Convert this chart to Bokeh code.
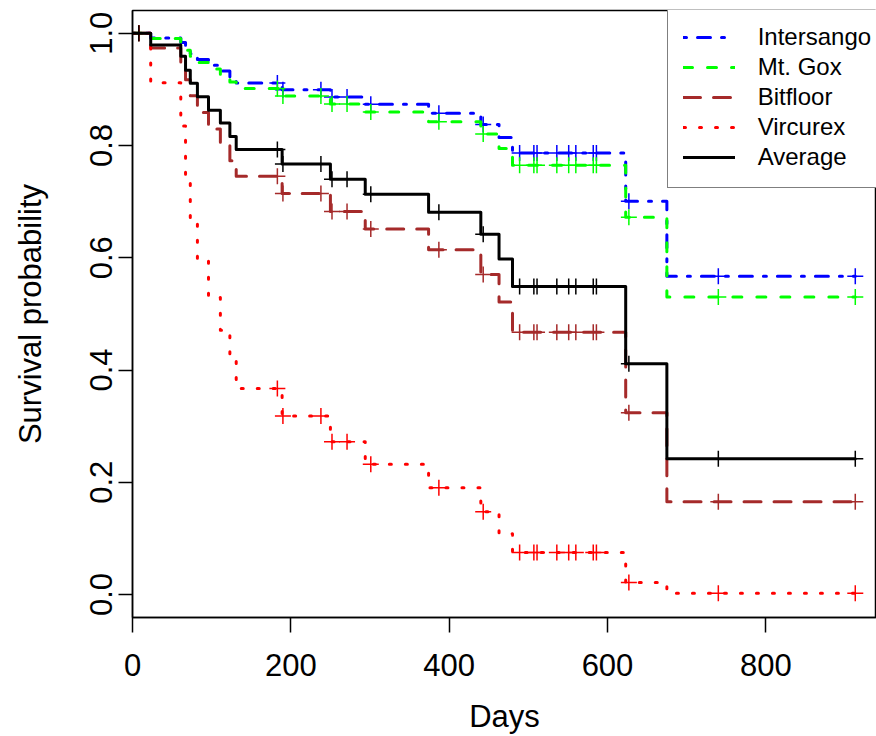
import numpy as np
from bokeh.plotting import figure
from bokeh.models import Range1d, FixedTicker, Legend, LegendItem
from bokeh.embed import file_html
from bokeh.resources import INLINE

# ---- data ----
event_days = [23, 61, 67, 73, 82, 96, 111, 123, 131, 189, 250, 294, 374, 440, 463, 480, 623, 675]
censor_days = [8, 183, 190, 238, 252, 271, 301, 387, 443, 489, 507, 511, 536, 551, 560, 582, 586, 627, 740, 913]
end_day = 913

intersango = [1.0, 0.9915, 0.9834, 0.9731, 0.9634, 0.9532, 0.9428, 0.9326, 0.9219, 0.9114, 0.8993, 0.8865, 0.8734, 0.8575, 0.8376, 0.8141, 0.7867, 0.7007, 0.5669]
mtgox = [1.0, 0.9906, 0.9815, 0.9699, 0.9592, 0.9478, 0.9363, 0.9250, 0.9131, 0.9015, 0.8882, 0.8741, 0.8597, 0.8422, 0.8203, 0.7947, 0.7649, 0.6720, 0.5303]
bitfloor = [1.0, 0.9735, 0.9483, 0.9171, 0.8885, 0.8590, 0.8296, 0.8017, 0.7727, 0.7452, 0.7144, 0.6826, 0.6512, 0.6144, 0.5701, 0.5211, 0.4675, 0.3239, 0.1654]
vircurex = [1.0, 0.912, 0.8346, 0.7446, 0.6685, 0.5957, 0.5291, 0.4709, 0.4154, 0.3671, 0.3179, 0.2723, 0.2319, 0.1902, 0.1474, 0.1085, 0.0750, 0.0215, 0.0022]
average = [1.0, 0.979, 0.959, 0.934, 0.911, 0.887, 0.863, 0.840, 0.816, 0.793, 0.767, 0.740, 0.713, 0.681, 0.642, 0.598, 0.549, 0.411, 0.242]

series_names = ["Intersango", "Mt. Gox", "Bitfloor", "Vircurex", "Average"]
x_ticks = [0, 200, 400, 600, 800]
y_ticks = [0.0, 0.2, 0.4, 0.6, 0.8, 1.0]
y_tick_labels = ["0.0", "0.2", "0.4", "0.6", "0.8", "1.0"]

styles = [
    dict(color="#0000FF", dash="3 11 13 11"),
    dict(color="#00FF00", dash="9 15"),
    dict(color="#A52A2A", dash="17 13"),
    dict(color="#FF0000", dash="2 14"),
    dict(color="#000000", dash="solid"),
]

FONT = "Liberation Sans"

p = figure(width=876, height=736, output_backend="svg", toolbar_location=None,
           x_range=Range1d(0, 939.8), y_range=Range1d(-0.0409, 1.0405),
           min_border_left=132, min_border_right=0, min_border_top=10, min_border_bottom=118)
p.background_fill_color = "white"
p.border_fill_color = "white"
p.grid.visible = False
p.outline_line_color = "black"
p.outline_line_width = 1.5

p.xaxis.ticker = FixedTicker(ticks=x_ticks)
p.yaxis.ticker = FixedTicker(ticks=y_ticks)
p.yaxis.major_label_overrides = {t: l for t, l in zip(y_ticks, y_tick_labels)}
p.xaxis.major_label_overrides = {t: str(t) for t in x_ticks}
for ax in (p.xaxis, p.yaxis):
    ax.minor_tick_line_color = None
    ax.major_tick_in = 0
    ax.major_tick_line_color = "black"
    ax.major_tick_line_width = 1.5
    ax.axis_line_color = "black"
    ax.axis_line_width = 1.5
    ax.major_label_text_font = FONT
    ax.major_label_text_font_size = "31px"
    ax.major_label_text_color = "black"
    ax.axis_label_text_font = FONT
    ax.axis_label_text_font_size = "31px"
    ax.axis_label_text_font_style = "normal"
    ax.axis_label_text_color = "black"
p.xaxis.major_tick_out = 15
p.yaxis.major_tick_out = 14
p.xaxis.major_label_standoff = 21
p.yaxis.major_label_standoff = 6
p.yaxis.major_label_orientation = "vertical"
p.xaxis.axis_label = "Days"
p.yaxis.axis_label = "Survival probability"
p.xaxis.axis_label_standoff = 20
p.yaxis.axis_label_standoff = 40

events = np.array(event_days)
xs = [0] + event_days + [end_day]
items = []
for name, vals, st in zip(series_names, [intersango, mtgox, bitfloor, vircurex, average], styles):
    ys = list(vals) + [vals[-1]]
    r = p.step(xs, ys, mode="after", line_color=st["color"], line_width=3,
               line_dash=st["dash"], line_cap="round", line_join="round")
    idx = np.searchsorted(events, np.array(censor_days), side="right")
    cy = [vals[i] for i in idx]
    p.scatter(censor_days, cy, marker="cross", size=16, line_color=st["color"], line_width=1.5)
    items.append(LegendItem(label=name, renderers=[r]))

legend = Legend(items=items, location=(534.7, 429.4))
legend.border_line_color = "black"
legend.border_line_width = 1.5
legend.background_fill_color = "white"
legend.background_fill_alpha = 1.0
legend.label_text_font = FONT
legend.label_text_font_size = "24px"
legend.label_text_color = "black"
legend.glyph_width = 52
legend.glyph_height = 30
legend.label_height = 30
legend.label_standoff = 23
legend.spacing = 0
legend.padding = 15
legend.margin = 0
p.add_layout(legend, "center")

open("out.html", "w").write(file_html(p, INLINE))
